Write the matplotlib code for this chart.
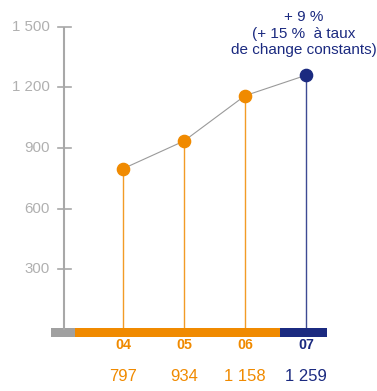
import matplotlib.pyplot as plt
from matplotlib.patches import Rectangle

plt.rcParams["font.family"] = ["Liberation Sans", "DejaVu Sans"]

# Revenue by year
years = ["04", "05", "06", "07"]
values = [797, 934, 1158, 1259]
value_labels = ["797", "934", "1 158", "1 259"]
y_ticks = [300, 600, 900, 1200, 1500]
y_tick_labels = ["300", "600", "900", "1 200", "1 500"]
note = "+ 9 %\n(+ 15 %  à taux\nde change constants)"

orange = "#F08A00"
navy = "#1B2A80"
grey = "#A8A8A8"
colors = [orange, orange, orange, navy]

fig = plt.figure(figsize=(3.77, 3.91), dpi=100)
ax = fig.add_axes([0, 0, 1, 1])
ax.set_xlim(-2.016, 4.164)
ax.set_ylim(-301.5, 1631)
ax.axis("off")

xs = list(range(len(years)))

# left value axis
ax_x = -0.967
ax.plot([ax_x, ax_x], [0, 1500], color=grey, lw=1.5, solid_capstyle="butt")
for t, lab in zip(y_ticks, y_tick_labels):
    ax.plot([ax_x - 0.1, ax_x + 0.115], [t, t], color=grey, lw=1.2)
    ax.text(ax_x - 0.23, t, lab, ha="right", va="center",
            color="#B0B0B0", fontsize=10.8)

# coloured base band
ax.add_patch(Rectangle((-1.18, -34.6), 0.393, 44.5, color="#A0A0A0", lw=0))
ax.add_patch(Rectangle((-0.787, -34.6), 3.361, 44.5, color=orange, lw=0))
ax.add_patch(Rectangle((2.574, -34.6), 0.77, 44.5, color=navy, lw=0))

# trend line, stems and dots
ax.plot(xs, values, color="#9A9A9A", lw=0.8, zorder=2)
for x, v, c in zip(xs, values, colors):
    ax.plot([x, x], [0, v], color=c, lw=1.0, alpha=0.85, zorder=2)
    ax.plot(x, v, "o", color=c, ms=8.8, zorder=3)

for x, yr, lab, c in zip(xs, years, value_labels, colors):
    ax.text(x, -76, yr, ha="center", va="center", color=c,
            fontsize=10.3, fontweight="bold")
    ax.text(x, -232, lab, ha="center", va="center", color=c, fontsize=12)

ax.text(xs[-1] - 0.04, 1465, note, ha="center", va="center", color=navy,
        fontsize=11, linespacing=1.2)

fig.savefig("out.png", dpi=100)
